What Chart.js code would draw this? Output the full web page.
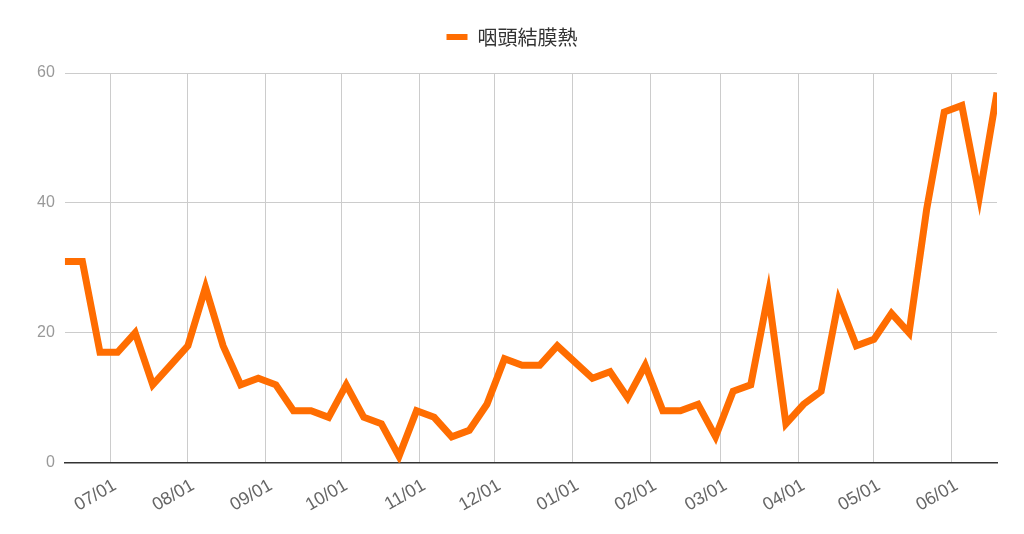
<!DOCTYPE html>
<html>
<head>
<meta charset="utf-8">
<script src="https://cdn.jsdelivr.net/npm/chart.js@4.4.0/dist/chart.umd.min.js"></script>
<style>
  html, body { margin: 0; padding: 0; background: #fff; }
  #wrap { width: 1024px; height: 534px; }
</style>
</head>
<body>
<div id="wrap"><canvas id="chart"></canvas></div>
<script>
// series name (legend)
const seriesName = "咽頭結膜熱";

// weekly report dates
const weekDates = [
  "2018-06-13", "2018-06-20", "2018-06-27", "2018-07-04", "2018-07-11", "2018-07-18", "2018-07-25",
  "2018-08-01", "2018-08-08", "2018-08-15", "2018-08-22", "2018-08-29", "2018-09-05", "2018-09-12",
  "2018-09-19", "2018-09-26", "2018-10-03", "2018-10-10", "2018-10-17", "2018-10-24", "2018-10-31",
  "2018-11-07", "2018-11-14", "2018-11-21", "2018-11-28", "2018-12-05", "2018-12-12", "2018-12-19",
  "2018-12-26", "2019-01-02", "2019-01-09", "2019-01-16", "2019-01-23", "2019-01-30", "2019-02-06",
  "2019-02-13", "2019-02-20", "2019-02-27", "2019-03-06", "2019-03-13", "2019-03-20", "2019-03-27",
  "2019-04-03", "2019-04-10", "2019-04-17", "2019-04-24", "2019-05-01", "2019-05-08", "2019-05-15",
  "2019-05-22", "2019-05-29", "2019-06-05", "2019-06-12", "2019-06-19"
];

// reported cases per week
const cases = [
  31, 31, 17, 17, 20, 12, 15,
  18, 27, 18, 12, 13, 12, 8,
  8, 7, 12, 7, 6, 1, 8,
  7, 4, 5, 9, 16, 15, 15,
  18, 15.5, 13, 14, 10, 15, 8,
  8, 9, 4, 11, 12, 26, 6,
  9, 11, 25, 18, 19, 23, 20,
  39, 54, 55, 41, 57
];

// x axis tick dates + labels
const monthTicks = [
  "2018-07-01", "2018-08-01", "2018-09-01", "2018-10-01", "2018-11-01", "2018-12-01",
  "2019-01-01", "2019-02-01", "2019-03-01", "2019-04-01", "2019-05-01", "2019-06-01"
];
const monthLabels = ["07/01", "08/01", "09/01", "10/01", "11/01", "12/01",
  "01/01", "02/01", "03/01", "04/01", "05/01", "06/01"];

// y axis ticks
const yTicks = [0, 20, 40, 60];

// date string -> day number
function dayNum(s) {
  return Date.parse(s + "T00:00:00Z") / 86400000;
}

const points = weekDates.map((d, i) => ({ x: dayNum(d), y: cases[i] }));
const tickDays = monthTicks.map(dayNum);

const ctx = document.getElementById("chart").getContext("2d");
new Chart(ctx, {
  type: "line",
  data: {
    datasets: [
      {
        label: seriesName,
        data: points,
        borderColor: "#ff6d01",
        backgroundColor: "#ff6d01",
        borderWidth: 7,
        borderJoinStyle: "miter",
        pointRadius: 0,
        tension: 0,
        fill: false,
      },
    ],
  },
  options: {
    responsive: true,
    maintainAspectRatio: false,
    animation: false,
    layout: { padding: { left: 27, right: 27, top: 1, bottom: 6 } },
    plugins: {
      tooltip: { enabled: false },
      legend: {
        position: "top",
        labels: {
          boxWidth: 21,
          boxHeight: 6,
          padding: 26,
          color: "#333",
          font: { family: "'Noto Sans CJK JP', sans-serif", size: 20 },
          // no outline round the legend swatch
          generateLabels: (chart) => {
            const items = Chart.defaults.plugins.legend.labels.generateLabels(chart);
            items.forEach((it) => { it.lineWidth = 0; });
            return items;
          },
        },
      },
    },
    scales: {
      x: {
        type: "linear",
        min: dayNum(weekDates[0]),
        max: dayNum(weekDates[weekDates.length - 1]),
        afterBuildTicks: (scale) => {
          scale.ticks = tickDays.map((v) => ({ value: v }));
        },
        ticks: {
          autoSkip: false,
          minRotation: 30,
          maxRotation: 30,
          labelOffset: 5,
          padding: 12,
          color: "#666",
          font: { family: "'Liberation Sans', Arial, sans-serif", size: 18 },
          callback: (value, index) => monthLabels[index],
        },
        grid: { color: "#cccccc", lineWidth: 1, drawTicks: false },
        border: { color: "#333", width: 1.5 },
      },
      y: {
        min: 0,
        max: 60,
        afterBuildTicks: (scale) => {
          scale.ticks = yTicks.map((v) => ({ value: v }));
        },
        ticks: {
          padding: 10,
          color: "#999",
          font: { family: "'Liberation Sans', Arial, sans-serif", size: 16 },
        },
        grid: { color: "#cccccc", lineWidth: 1, drawTicks: false },
        border: { display: false },
      },
    },
  },
  plugins: [
    {
      // extra gap under the legend
      id: "legendGap",
      beforeInit(chart) {
        const fit = chart.legend.fit;
        chart.legend.fit = function () {
          fit.bind(chart.legend)();
          this.height += 16;
        };
      },
    },
  ],
});
</script>
</body>
</html>
